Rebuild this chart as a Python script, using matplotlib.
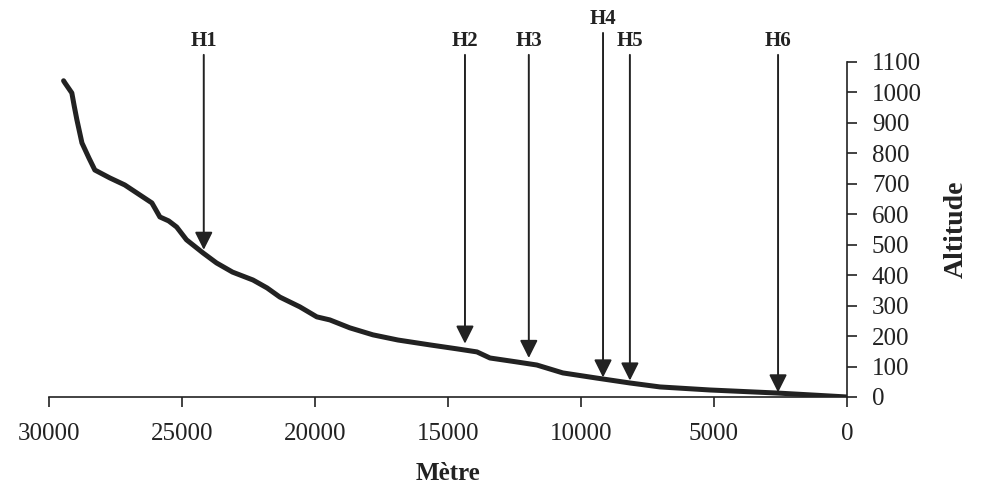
import numpy as np
import matplotlib.pyplot as plt

plt.rcParams['font.family'] = ['Liberation Serif', 'DejaVu Serif']

# Longitudinal profile: distance to outlet (m) vs altitude (m)
distance = [29450, 29400, 29250, 29140, 29050, 28950, 28760, 28500, 28275,
            27710, 27150, 26700, 26130, 25830, 25500, 25200, 24830, 24210,
            23700, 23100, 22330, 21800, 21320, 20570, 19930, 19440, 18690,
            17820, 16880, 15680, 14660, 13910, 13420, 12410, 11660, 10680,
            9400, 8160, 7030, 5150, 2630, 1200, 0]
altitude = [1038, 1031, 1012, 998, 955, 910, 834, 785, 745, 719, 696, 670,
            637, 591, 578, 558, 516, 473, 440, 410, 384, 358, 328, 296, 263,
            253, 227, 204, 187, 171, 158, 148, 128, 115, 105, 79, 62, 46, 33,
            23, 13, 6, 0]

# Stations along the profile
station_names = ['H1', 'H2', 'H3', 'H4', 'H5', 'H6']
station_x = [24180, 14360, 11960, 9170, 8160, 2590]
station_tip = [483, 175, 128, 64, 54, 15]
station_top = [1123, 1123, 1123, 1195, 1123, 1123]

ink = '#222222'

fig = plt.figure(figsize=(9.87, 4.95), dpi=100)
ax = fig.add_axes([0.0496, 0.198, 0.8085, 0.677])

ax.plot(distance, altitude, color=ink, lw=3.6, solid_capstyle='round',
        solid_joinstyle='round')

for name, x, tip, top in zip(station_names, station_x, station_tip, station_top):
    ax.annotate('', xy=(x, tip), xytext=(x, top),
                arrowprops=dict(arrowstyle='-|>', lw=1.4, color=ink,
                                mutation_scale=27, shrinkA=0, shrinkB=0),
                annotation_clip=False)
    ax.text(x, top + 12, name, ha='center', va='bottom', fontsize=15,
            fontweight='bold', color=ink, clip_on=False)

ax.set_xlim(30000, 0)
ax.set_ylim(0, 1100)
ax.set_xticks(np.arange(30000, -1, -5000))
ax.set_yticks(np.arange(0, 1101, 100))

ax.spines['left'].set_visible(False)
ax.spines['top'].set_visible(False)
for s in ['bottom', 'right']:
    ax.spines[s].set_linewidth(1.2)
    ax.spines[s].set_color(ink)

ax.yaxis.tick_right()
ax.yaxis.set_label_position('right')
ax.tick_params(axis='both', direction='out', length=7, width=1.2,
               color=ink, labelcolor=ink, labelsize=18)
ax.tick_params(axis='x', pad=12)
ax.tick_params(axis='y', pad=11)

ax.set_xlabel('Mètre', fontsize=18, fontweight='bold', color=ink, labelpad=12)
ax.set_ylabel('Altitude', fontsize=20, fontweight='bold', color=ink, labelpad=16)

fig.savefig('out.png', dpi=100)
